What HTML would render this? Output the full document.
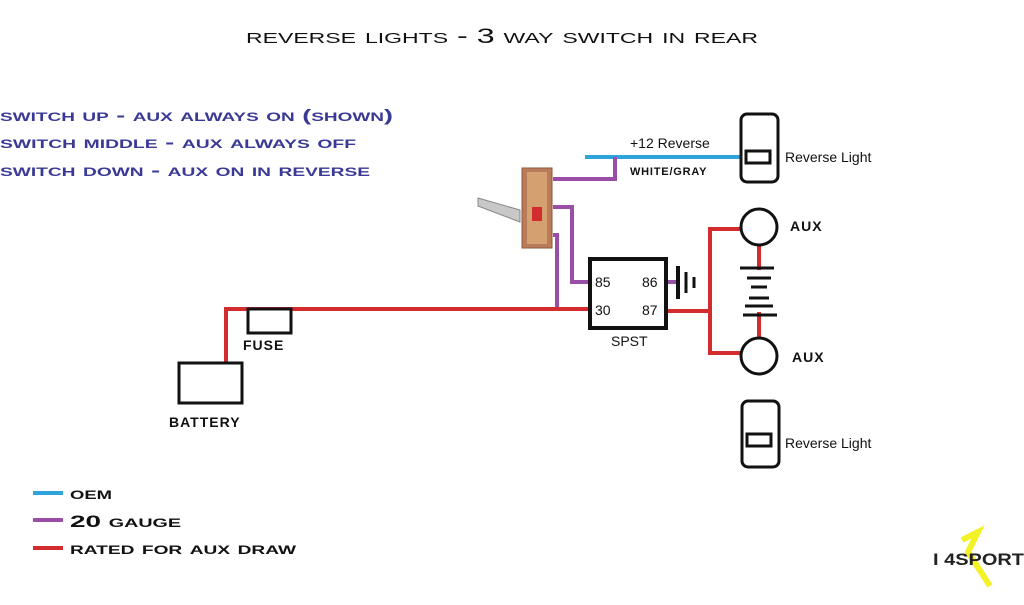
<!DOCTYPE html>
<html><head><style>
body{margin:0;background:#fff;width:1024px;height:600px;overflow:hidden}
svg text{font-family:"Liberation Sans",sans-serif}
</style></head><body>
<svg width="1024" height="600" viewBox="0 0 1024 600">
<text x="246" y="43" font-size="21" font-variant="small-caps" textLength="512" lengthAdjust="spacingAndGlyphs" fill="#111">reverse lights - 3 way switch in rear</text>
<g font-size="17" font-weight="bold" font-variant="small-caps" fill="#3a3a96" lengthAdjust="spacingAndGlyphs">
<text x="0" y="121" textLength="393" lengthAdjust="spacingAndGlyphs">switch up - aux always on (shown)</text>
<text x="0" y="148" textLength="356" lengthAdjust="spacingAndGlyphs">switch middle - aux always off</text>
<text x="0" y="176" textLength="370" lengthAdjust="spacingAndGlyphs">switch down - aux on in reverse</text>
</g>
<!-- wires -->
<g fill="none" stroke-width="4">
<line x1="585" y1="157" x2="745" y2="157" stroke="#2ea3dc"/>
<polyline points="553,179 615,179 615,157" stroke="#9b4ea8"/>
<polyline points="553,207 572,207 572,282 592,282" stroke="#9b4ea8"/>
<polyline points="553,235 557,235 557,309" stroke="#9b4ea8"/>
<line x1="666" y1="282" x2="676" y2="282" stroke="#9b4ea8"/>
<polyline points="226,362 226,309 590,309" stroke="#d32c2f"/>
<polyline points="666,311 710,311" stroke="#d32c2f"/>
<polyline points="741,229 710,229 710,353 742,353" stroke="#d32c2f"/>
<line x1="759" y1="244" x2="759" y2="270" stroke="#d32c2f"/>
<line x1="759" y1="312" x2="759" y2="340" stroke="#d32c2f"/>
</g>
<!-- switch -->
<rect x="522" y="168" width="30" height="80" fill="#b97b5a" stroke="#8a5a3a"/>
<rect x="527" y="172" width="20" height="72" fill="#d4a070"/>
<rect x="532" y="207" width="10" height="14" fill="#d32c2f"/>
<polygon points="478,198 520,210 520,222 478,206" fill="#c8c8c8" stroke="#888"/>
<!-- battery -->
<rect x="179" y="363" width="63" height="40" fill="none" stroke="#111" stroke-width="3"/>
<rect x="248" y="309" width="43" height="24" fill="#fff" stroke="#111" stroke-width="3"/>
<g font-size="14" font-weight="bold" letter-spacing="1" fill="#111">
<text x="243" y="350">FUSE</text>
<text x="169" y="427">BATTERY</text>
<text x="790" y="231">AUX</text>
<text x="792" y="362">AUX</text>
</g>
<!-- relay -->
<rect x="590" y="259" width="76" height="69" fill="#fff" stroke="#111" stroke-width="4"/>
<g font-size="14" fill="#111">
<text x="595" y="287">85</text><text x="642" y="287">86</text>
<text x="595" y="315">30</text><text x="642" y="315">87</text>
<text x="611" y="346">SPST</text>
<text x="630" y="148">+12 Reverse</text>
<text x="785" y="162">Reverse Light</text>
<text x="785" y="448">Reverse Light</text>
</g>
<text x="630" y="175" font-size="11" font-weight="bold" letter-spacing="0.8" fill="#111">WHITE/GRAY</text>
<line x1="678" y1="266" x2="678" y2="299" stroke="#111" stroke-width="4"/>
<line x1="686" y1="272" x2="686" y2="293" stroke="#111" stroke-width="3"/>
<line x1="694" y1="277" x2="694" y2="288" stroke="#111" stroke-width="3"/>
<!-- aux -->
<circle cx="759" cy="227" r="18" fill="#fff" stroke="#111" stroke-width="3"/>
<circle cx="759" cy="356" r="18" fill="#fff" stroke="#111" stroke-width="3"/>
<g stroke="#111" stroke-width="3">
<line x1="740" y1="268" x2="774" y2="268"/><line x1="747" y1="278" x2="771" y2="278"/>
<line x1="751" y1="287" x2="767" y2="287"/><line x1="749" y1="298" x2="769" y2="298"/>
<line x1="745" y1="306" x2="773" y2="306"/><line x1="743" y1="315" x2="777" y2="315"/>
</g>
<!-- reverse light switches -->
<rect x="741" y="114" width="37" height="68" rx="6" fill="#fff" stroke="#111" stroke-width="3"/>
<rect x="746" y="151" width="24" height="12" fill="#fff" stroke="#111" stroke-width="3"/>
<rect x="742" y="401" width="37" height="66" rx="6" fill="#fff" stroke="#111" stroke-width="3"/>
<rect x="747" y="434" width="24" height="12" fill="#fff" stroke="#111" stroke-width="3"/>
<!-- legend -->
<line x1="33" y1="493" x2="63" y2="493" stroke="#2ea3dc" stroke-width="4"/>
<line x1="33" y1="520" x2="63" y2="520" stroke="#9b4ea8" stroke-width="4"/>
<line x1="33" y1="548" x2="63" y2="548" stroke="#d32c2f" stroke-width="4"/>
<g font-size="17" font-weight="bold" font-variant="small-caps" fill="#111">
<text x="70" y="499" textLength="42" lengthAdjust="spacingAndGlyphs">oem</text>
<text x="70" y="527" textLength="111" lengthAdjust="spacingAndGlyphs">20 gauge</text>
<text x="70" y="554" textLength="226" lengthAdjust="spacingAndGlyphs">rated for aux draw</text>
</g>
<polyline points="962,540 978,532 968,552 990,586" fill="none" stroke="#f0f000" stroke-width="6" opacity="0.85"/>
<text x="933" y="565" font-size="17" font-weight="bold" fill="#222" textLength="91" lengthAdjust="spacingAndGlyphs">I 4SPORT</text>
</svg>
</body></html>
